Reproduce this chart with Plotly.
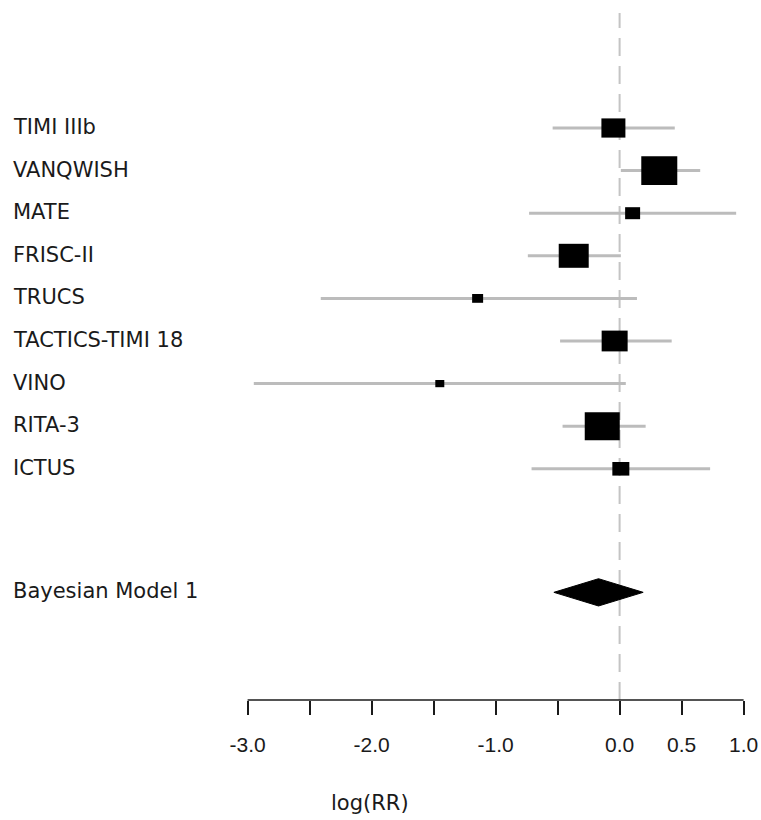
import plotly.graph_objects as go

# ---- data ----
studies = ["TIMI IIIb", "VANQWISH", "MATE", "FRISC-II", "TRUCS",
           "TACTICS-TIMI 18", "VINO", "RITA-3", "ICTUS"]
log_rr = [-0.05, 0.32, 0.105, -0.37, -1.145, -0.04, -1.45, -0.14, 0.01]
ci_low = [-0.54, 0.01, -0.73, -0.74, -2.41, -0.48, -2.95, -0.46, -0.71]
ci_high = [0.445, 0.65, 0.94, 0.01, 0.14, 0.42, 0.05, 0.21, 0.73]
weights = [2.4, 3.6, 1.5, 3.0, 1.1, 2.6, 0.9, 3.5, 1.7]
rows = [1, 2, 3, 4, 5, 6, 7, 8, 9]

pooled_label = "Bayesian Model 1"
pooled_est = -0.17
pooled_low = -0.53
pooled_high = 0.19
pooled_row = 11.9

tick_vals = [-3.0, -2.5, -2.0, -1.5, -1.0, -0.5, 0.0, 0.5, 1.0]
tick_text = ["-3.0", "", "-2.0", "", "-1.0", "", "0.0", "0.5", "1.0"]
x_label = "log(RR)"

# ---- styling ----
FONT = "Liberation Sans, Arial, sans-serif"
LABEL_FONT = "DejaVu Sans, Liberation Sans, sans-serif"
FS = 21
TXT = "#1a1a1a"
W, H = 761, 820
PLOT_BOTTOM_PX = 700
BOX_SCALE = 10.0       # px per weight unit
BOX_ASPECT = 0.8       # height / width
DIAMOND_HALF = 0.32    # half-height in row units

fig = go.Figure()

# confidence interval lines
cx, cy = [], []
for lo, hi, r in zip(ci_low, ci_high, rows):
    cx += [lo, hi, None]
    cy += [r, r, None]
fig.add_trace(go.Scatter(x=cx, y=cy, mode="lines",
                         line=dict(color="#bcbcbc", width=3),
                         hoverinfo="skip", showlegend=False))

# pooled diamond
fig.add_trace(go.Scatter(
    x=[pooled_low, pooled_est, pooled_high, pooled_est, pooled_low],
    y=[pooled_row, pooled_row - DIAMOND_HALF, pooled_row,
       pooled_row + DIAMOND_HALF, pooled_row],
    mode="lines", fill="toself", fillcolor="black",
    line=dict(color="black", width=1), hoverinfo="skip", showlegend=False))

shapes = []
# zero reference line
shapes.append(dict(type="line", xref="x", yref="paper", x0=0, x1=0,
                   y0=0, y1=1 - 13 / PLOT_BOTTOM_PX,
                   line=dict(color="#c4c4c4", width=2, dash="18px,10px"),
                   layer="below"))
# study boxes
for est, wgt, r in zip(log_rr, weights, rows):
    bw = wgt * BOX_SCALE
    bh = bw * BOX_ASPECT
    shapes.append(dict(type="rect", xref="x", yref="y",
                       xsizemode="pixel", xanchor=est,
                       x0=-bw / 2, x1=bw / 2,
                       ysizemode="pixel", yanchor=r,
                       y0=-bh / 2, y1=bh / 2,
                       fillcolor="black", line=dict(width=0)))
# axis line from first to last tick
shapes.append(dict(type="line", xref="x", yref="paper",
                   x0=tick_vals[0], x1=tick_vals[-1], y0=0, y1=0,
                   line=dict(color="#1a1a1a", width=1.5)))

annotations = []
for name, r in zip(studies + [pooled_label], rows + [pooled_row]):
    annotations.append(dict(text=name, xref="paper", yref="y",
                            x=11 / W, y=r, xanchor="left", yanchor="middle",
                            yshift=1, showarrow=False,
                            font=dict(family=LABEL_FONT, size=FS, color=TXT)))
annotations.append(dict(text=x_label, xref="paper", yref="paper",
                        x=370 / W, y=-(803 - PLOT_BOTTOM_PX) / PLOT_BOTTOM_PX,
                        xanchor="center", yanchor="middle", showarrow=False,
                        font=dict(family=LABEL_FONT, size=FS, color=TXT)))

# axis ranges: 124 px per unit, zero at 619.6 px; rows 42.6 px apart
px_per_unit = 124.0
zero_px = 619.6
x_range = [(0 - zero_px) / px_per_unit, (W - zero_px) / px_per_unit]
row_px = 42.6
row0_px = 85.4
y_range = [(PLOT_BOTTOM_PX - row0_px) / row_px, (0 - row0_px) / row_px]

fig.update_layout(
    width=W, height=H,
    margin=dict(l=0, r=0, t=0, b=H - PLOT_BOTTOM_PX, pad=0),
    paper_bgcolor="white", plot_bgcolor="white",
    shapes=shapes, annotations=annotations,
    xaxis=dict(range=x_range, tickmode="array", tickvals=tick_vals,
               ticktext=tick_text, ticks="outside", ticklen=14,
               tickwidth=1.5, tickcolor="#1a1a1a", showline=False,
               showgrid=False, zeroline=False, ticklabelstandoff=12,
               tickfont=dict(family=FONT, size=FS, color=TXT)),
    yaxis=dict(range=y_range, visible=False, showgrid=False,
               zeroline=False),
    font=dict(family=FONT),
)

fig.write_html("out.html")
